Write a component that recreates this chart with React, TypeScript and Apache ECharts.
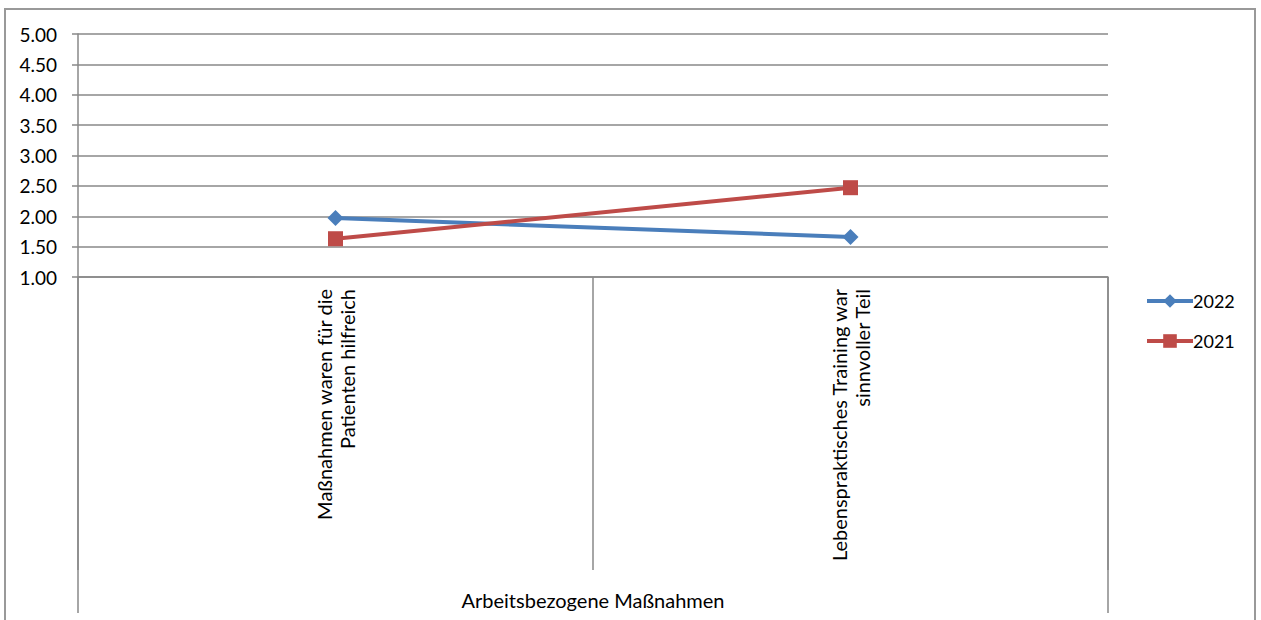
import React, { useEffect, useRef } from "react";
import * as echarts from "echarts";

const categories = [
  "Maßnahmen waren für die\nPatienten hilfreich",
  "Lebenspraktisches Training war\nsinnvoller Teil",
];
const groupLabel = ["Arbeitsbezogene Maßnahmen"];
const series2022 = [1.97, 1.66];
const series2021 = [1.63, 2.47];
const seriesNames = ["2022", "2021"];

const FONT = "Lato";

export default function App() {
  const ref = useRef<HTMLDivElement>(null);
  useEffect(() => {
    document.body.style.margin = "0";
    const chart = echarts.init(ref.current!, null, { renderer: "svg" });
    chart.setOption({
      animation: false,
      backgroundColor: "#fff",
      textStyle: { fontFamily: FONT },
      grid: { left: 78, right: 153, top: 34, bottom: 343, containLabel: false },
      legend: {
        orient: "vertical",
        left: 1140,
        top: 287,
        itemWidth: 46,
        itemHeight: 17,
        itemGap: 22,
        textStyle: { fontFamily: FONT, fontSize: 18, color: "#000", padding: [0, 0, 0, -5] },
        data: seriesNames.map((n) => ({ name: n, lineStyle: { width: 4 } })),
      },
      xAxis: [
        {
          type: "category",
          data: categories,
          boundaryGap: true,
          axisLine: { show: true, lineStyle: { color: "#888", width: 1.5 } },
          axisTick: { show: true, length: 293, lineStyle: { color: "#888", width: 1.5 } },
          axisLabel: {
            rotate: 90,
            margin: 12,
            fontFamily: FONT,
            fontSize: 20,
            color: "#000",
            lineHeight: 23,
            interval: 0,
          },
          splitLine: { show: false },
        },
        {
          type: "category",
          data: groupLabel,
          position: "bottom",
          boundaryGap: true,
          axisLine: { show: false },
          axisTick: { show: true, length: 336, lineStyle: { color: "#888", width: 1.5 } },
          axisLabel: {
            margin: 313,
            fontFamily: FONT,
            fontSize: 20,
            color: "#000",
          },
        },
      ],
      yAxis: {
        type: "value",
        min: 1,
        max: 5,
        interval: 0.5,
        axisLine: { show: true, lineStyle: { color: "#888", width: 1.5 } },
        axisTick: { show: true, length: 6, lineStyle: { color: "#888", width: 1.5 } },
        axisLabel: {
          margin: 21,
          fontFamily: FONT,
          fontSize: 19,
          color: "#000",
          formatter: (v: number) => v.toFixed(2),
        },
        splitLine: { show: true, lineStyle: { color: "#888", width: 1.5 } },
      },
      series: [
        {
          name: seriesNames[0],
          type: "line",
          data: series2022,
          symbol: "diamond",
          symbolSize: 16,
          lineStyle: { color: "#4A7EBB", width: 4 },
          itemStyle: { color: "#4A7EBB" },
        },
        {
          name: seriesNames[1],
          type: "line",
          data: series2021,
          symbol: "rect",
          symbolSize: 15,
          lineStyle: { color: "#BE4B48", width: 4 },
          itemStyle: { color: "#BE4B48" },
        },
      ],
      graphic: [
        {
          type: "rect",
          shape: { x: 5, y: 9, width: 1250, height: 640 },
          style: { fill: "none", stroke: "#999", lineWidth: 2 },
          silent: true,
          z: -1,
        },
      ],
    });
    return () => chart.dispose();
  }, []);
  return <div ref={ref} style={{ width: 1261, height: 620 }} />;
}
